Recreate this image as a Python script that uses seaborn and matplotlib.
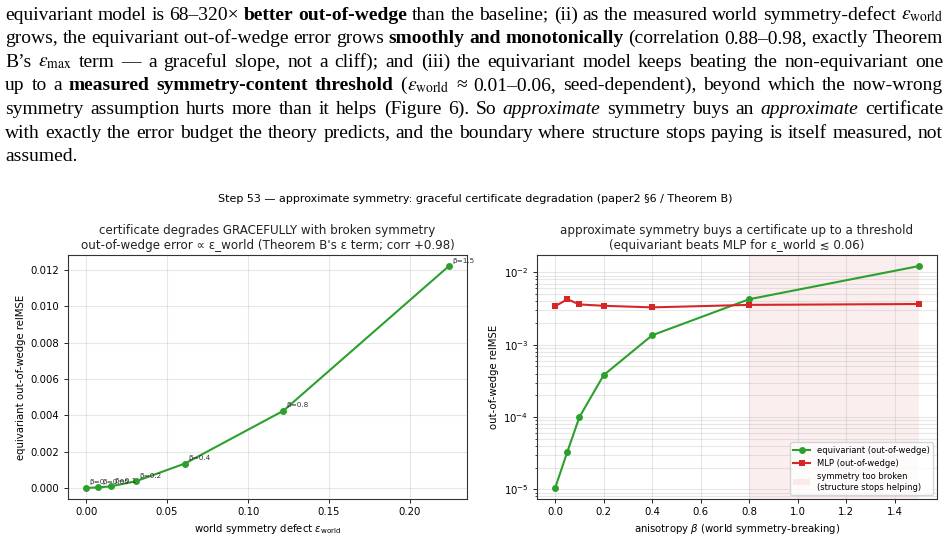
import matplotlib
matplotlib.use("Agg")
import matplotlib.pyplot as plt
import seaborn as sns
import pandas as pd
import numpy as np

# ---------------- data ----------------
beta = [0.0, 0.05, 0.1, 0.2, 0.4, 0.8, 1.5]
eps_world = [0.0, 0.0076, 0.0154, 0.0309, 0.061, 0.1218, 0.224]
equiv_err = [1.05e-5, 3.3e-5, 1.0e-4, 3.8e-4, 1.35e-3, 4.25e-3, 1.22e-2]
mlp_err = [3.4e-3, 4.25e-3, 3.6e-3, 3.45e-3, 3.28e-3, 3.55e-3, 3.65e-3]
threshold_span = [0.8, 1.5]

suptitle = "Step 53 \u2014 approximate symmetry: graceful certificate degradation (paper2 \u00a76 / Theorem B)"
left_title = ("certificate degrades GRACEFULLY with broken symmetry\n"
              "out-of-wedge error \u221d \u03b5_world (Theorem B's \u03b5 term; corr +0.98)")
right_title = ("approximate symmetry buys a certificate up to a threshold\n"
               "(equivariant beats MLP for \u03b5_world \u2272 0.06)")

EPS_W = r"$\epsilon_{\mathrm{world}}$"
EPS_M = r"$\epsilon_{\mathrm{max}}$"
# paragraph: each line is a list of words; each word is a list of (text, style)
para_lines = [
    [[("equivariant", "n")], [("model", "n")], [("is", "n")], [("68\u2013320\u00d7", "n")],
     [("better", "b")], [("out-of-wedge", "b")], [("than", "n")], [("the", "n")],
     [("baseline;", "n")], [("(ii)", "n")], [("as", "n")], [("the", "n")], [("measured", "n")],
     [("world", "n")], [("symmetry-defect", "n")], [(EPS_W, "m")]],
    [[("grows,", "n")], [("the", "n")], [("equivariant", "n")], [("out-of-wedge", "n")],
     [("error", "n")], [("grows", "n")], [("smoothly", "b")], [("and", "b")],
     [("monotonically", "b")], [("(correlation", "n")], [("0.88\u20130.98,", "n")],
     [("exactly", "n")], [("Theorem", "n")]],
    [[("B\u2019s", "n")], [(EPS_M, "m")], [("term", "n")], [("\u2014", "n")], [("a", "n")],
     [("graceful", "n")], [("slope,", "n")], [("not", "n")], [("a", "n")], [("cliff);", "n")],
     [("and", "n")], [("(iii)", "n")], [("the", "n")], [("equivariant", "n")], [("model", "n")],
     [("keeps", "n")], [("beating", "n")], [("the", "n")], [("non-equivariant", "n")], [("one", "n")]],
    [[("up", "n")], [("to", "n")], [("a", "n")], [("measured", "b")], [("symmetry-content", "b")],
     [("threshold", "b")], [("(", "n"), (EPS_W, "m")], [("\u2248", "n")], [("0.01\u20130.06,", "n")],
     [("seed-dependent),", "n")], [("beyond", "n")], [("which", "n")], [("the", "n")],
     [("now-wrong", "n")]],
    [[("symmetry", "n")], [("assumption", "n")], [("hurts", "n")], [("more", "n")], [("than", "n")],
     [("it", "n")], [("helps", "n")], [("(Figure", "n")], [("6).", "n")], [("So", "n")],
     [("approximate", "i")], [("symmetry", "n")], [("buys", "n")], [("an", "n")],
     [("approximate", "i")], [("certificate", "n")]],
    [[("with", "n")], [("exactly", "n")], [("the", "n")], [("error", "n")], [("budget", "n")],
     [("the", "n")], [("theory", "n")], [("predicts,", "n")], [("and", "n")], [("the", "n")],
     [("boundary", "n")], [("where", "n")], [("structure", "n")], [("stops", "n")],
     [("paying", "n")], [("is", "n")], [("itself", "n")], [("measured,", "n")], [("not", "n")]],
    [[("assumed.", "n")]],
]

# ---------------- figure ----------------
W, H = 949, 541
fig = plt.figure(figsize=(W / 100, H / 100), dpi=100)
renderer = fig.canvas.get_renderer()


def piece_text(txt, st, size, x=0, y=0):
    kw = dict(fontsize=size, family="Liberation Serif", va="baseline", ha="left",
              color="black")
    if st == "b":
        kw["weight"] = "bold"
    elif st == "i":
        kw["style"] = "italic"
    elif st == "m":
        kw["math_fontfamily"] = "stix"
    return fig.text(x / W, 1 - y / H, txt, **kw)


def word_width(word, size):
    total = 0
    for txt, st in word:
        t = piece_text(txt, st, size)
        total += t.get_window_extent(renderer).width
        t.remove()
    return total


X0, X1 = 5, 943
target = X1 - X0
base = 13.0
sp = piece_text("a a", "n", base)
w_aa = sp.get_window_extent(renderer).width
sp.remove()
sp = piece_text("aa", "n", base)
space_w = w_aa - sp.get_window_extent(renderer).width
sp.remove()

ratios = []
for line in para_lines[:-1]:
    ws = sum(word_width(w, base) for w in line) + space_w * (len(line) - 1) * 0.72
    ratios.append(target / ws)
size = base * min(min(ratios), 1.08)
space_w = space_w * size / base

baseline0 = 19.5
lead = 23.6
for i, line in enumerate(para_lines):
    y = baseline0 + i * lead
    widths = [word_width(w, size) for w in line]
    if i < len(para_lines) - 1 and len(line) > 1:
        gap = (target - sum(widths)) / (len(line) - 1)
    else:
        gap = space_w
    x = X0
    for w, wd in zip(line, widths):
        xx = x
        for txt, st in w:
            t = piece_text(txt, st, size, xx, y)
            xx += t.get_window_extent(renderer).width
        x += wd + gap

# ---------------- charts ----------------
plt.rcParams.update({
    "xtick.labelsize": 7.3, "ytick.labelsize": 7.3,
    "xtick.major.size": 2.6, "ytick.major.size": 2.6,
    "xtick.major.width": 0.6, "ytick.major.width": 0.6,
    "ytick.minor.size": 1.5, "ytick.minor.width": 0.5,
    "axes.linewidth": 0.8, "axes.edgecolor": "#333333",
})

fig.text(0.501, 1 - 199 / H, suptitle, ha="center", va="center", fontsize=8)

ax1 = fig.add_axes([68 / W, 1 - 499 / H, 399 / W, 244 / H])
ax2 = fig.add_axes([537 / W, 1 - 499 / H, 400 / W, 244 / H])

green = "#2ca02c"
red = "#d62728"

df_left = pd.DataFrame({"eps": eps_world, "err": equiv_err, "beta": beta})
sns.lineplot(data=df_left, x="eps", y="err", marker="o", color=green, lw=1.5,
             markersize=5, markeredgewidth=0, ax=ax1)
for b, e, v in zip(beta, eps_world, equiv_err):
    ax1.annotate(f"\u03b2={b:g}", (e, v), xytext=(2.5, 2.5), textcoords="offset points",
                 fontsize=5.2, color="#333333", annotation_clip=False)
ax1.set_title(left_title, fontsize=8.6, pad=4, color="#222222")
ax1.set_xlabel(r"world symmetry defect $\varepsilon_{\rm world}$", fontsize=7.3, labelpad=3)
ax1.set_ylabel("equivariant out-of-wedge relMSE", fontsize=7.3, labelpad=3)
ax1.grid(True, alpha=0.3)
ax1.set_xticks([0.0, 0.05, 0.10, 0.15, 0.20])
ax1.set_yticks([0, 0.002, 0.004, 0.006, 0.008, 0.010, 0.012])
ax1.yaxis.set_major_formatter(matplotlib.ticker.FormatStrFormatter("%.3f"))
ax1.xaxis.set_major_formatter(matplotlib.ticker.FormatStrFormatter("%.2f"))

df_right = pd.DataFrame({"beta": beta, "equiv": equiv_err, "mlp": mlp_err})
ax2.axvspan(threshold_span[0], threshold_span[1], color=red, alpha=0.08, lw=0,
            label="symmetry too broken\n(structure stops helping)")
sns.lineplot(data=df_right, x="beta", y="equiv", marker="o", color=green, lw=1.5,
             markersize=5, markeredgewidth=0, ax=ax2, label="equivariant (out-of-wedge)")
sns.lineplot(data=df_right, x="beta", y="mlp", marker="s", color=red, lw=1.5,
             markersize=5, markeredgewidth=0, ax=ax2, label="MLP (out-of-wedge)")
ax2.set_yscale("log")
ax2.set_title(right_title, fontsize=8.6, pad=4, color="#222222")
ax2.set_xlabel(r"anisotropy $\beta$ (world symmetry-breaking)", fontsize=7.3, labelpad=3)
ax2.set_ylabel("out-of-wedge relMSE", fontsize=7.3, labelpad=3)
ax2.grid(True, which="both", alpha=0.3)
ax2.set_xticks([0.0, 0.2, 0.4, 0.6, 0.8, 1.0, 1.2, 1.4])
ax2.xaxis.set_major_formatter(matplotlib.ticker.FormatStrFormatter("%.1f"))
h, l = ax2.get_legend_handles_labels()
order = [l.index("equivariant (out-of-wedge)"), l.index("MLP (out-of-wedge)"),
         l.index("symmetry too broken\n(structure stops helping)")]
ax2.legend([h[k] for k in order], [l[k] for k in order], loc="lower right",
           fontsize=6.0, framealpha=0.8)

fig.savefig("out.png", dpi=100)
